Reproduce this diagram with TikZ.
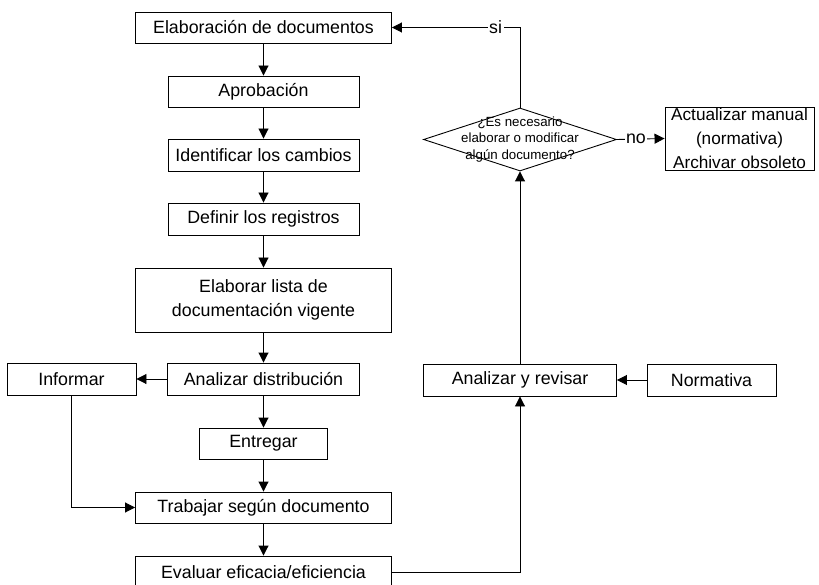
\documentclass[tikz,border=0pt]{standalone}
\usepackage{fontspec}
\setmainfont{Liberation Sans}
\usetikzlibrary{arrows.meta,shapes.geometric}
\begin{document}
\begin{tikzpicture}[x=1pt,y=-1pt,
  box/.style={draw=black,line width=0.9pt,rectangle,inner sep=0pt,align=center,
    font=\fontsize{17.8}{24}\selectfont},
  dec/.style={draw=black,line width=0.9pt,diamond,inner sep=0pt},
  dectext/.style={inner sep=0pt,align=center,font=\fontsize{13.3}{16.5}\selectfont},
  conn/.style={draw=black,line width=0.9pt,-{Triangle[length=10pt,width=10pt]}},
  lbl/.style={fill=white,inner sep=1.5pt,font=\fontsize{17.8}{24}\selectfont}]
\useasboundingbox (0,0) rectangle (819,585);
\node[box,minimum width=256,minimum height=31] (elab) at (263.5,27.5) {Elaboración de documentos};
\node[box,minimum width=191,minimum height=31] (apro) at (263.5,91.5) {Aprobación};
\node[box,minimum width=191,minimum height=32] (iden) at (263.5,155) {Identificar los cambios};
\node[box,minimum width=191,minimum height=32] (defi) at (263.5,219) {Definir los registros};
\node[box,minimum width=256,minimum height=64] (lista) at (263.5,300) {Elaborar lista de\\documentación vigente};
\node[box,minimum width=192,minimum height=32] (anal) at (263.5,379) {Analizar distribución};
\node[box,minimum width=129,minimum height=32] (info) at (71.5,379) {Informar};
\node[box,minimum width=128,minimum height=31] (entr) at (263.5,443.5) {Entregar};
\node[box,minimum width=256,minimum height=31] (trab) at (263.5,507.5) {Trabajar según documento};
\node[box,minimum width=256,minimum height=32] (eval) at (263.5,572) {Evaluar eficacia/eficiencia};
\node[box,minimum width=193,minimum height=32] (ar) at (520,380) {Analizar y revisar};
\node[box,minimum width=129,minimum height=32] (norm) at (711.5,380) {Normativa};
\node[dec,minimum width=193,minimum height=63] (dia) at (520,139.5) {};
\node[dectext] (diat) at (dia.center) {¿Es necesario\\elaborar o modificar\\algún documento?};
\node[box,minimum width=149,minimum height=63,font=\fontsize{17.2}{24}\selectfont] (act) at (739.5,138.5) {Actualizar manual\\(normativa)\\Archivar obsoleto};
\coordinate (c1) at (520,27.5);

\draw[conn] (elab) -- (apro);
\draw[conn] (apro) -- (iden);
\draw[conn] (iden) -- (defi);
\draw[conn] (defi) -- (lista);
\draw[conn] (lista) -- (anal);
\draw[conn] (anal) -- (entr);
\draw[conn] (entr) -- (trab);
\draw[conn] (trab) -- (eval);
\draw[conn] (anal) -- (info);
\draw[conn] (info.south) |- (trab.west);
\draw[conn] (eval.east) -| (ar.south);
\draw[conn] (norm) -- (ar);
\draw[conn] (ar) -- (dia.south);
\draw[conn] (dia.north) -- (c1) -- node[lbl,pos=0.19]{si} (elab.east);
\draw[conn] (dia.east) -- node[lbl,pos=0.4]{no} (act.west);
\end{tikzpicture}
\end{document}
